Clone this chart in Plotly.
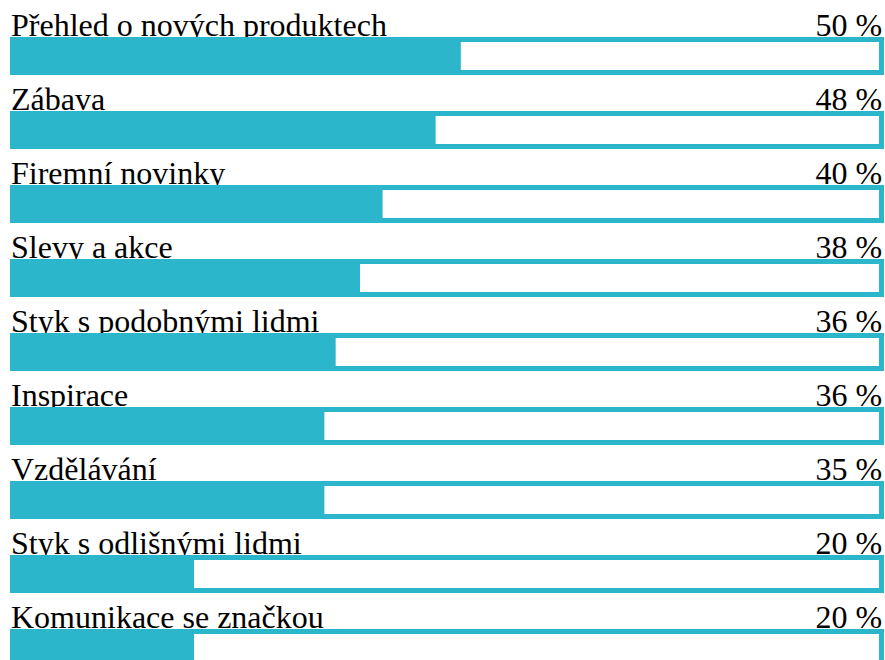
import plotly.graph_objects as go

categories = [
    "Přehled o nových produktech",
    "Zábava",
    "Firemní novinky",
    "Slevy a akce",
    "Styk s podobnými lidmi",
    "Inspirace",
    "Vzdělávání",
    "Styk s odlišnými lidmi",
    "Komunikace se značkou",
]
label_values = [50, 48, 40, 38, 36, 36, 35, 20, 20]
bar_values = [51.3, 48.4, 42.3, 39.7, 36.9, 35.6, 35.6, 20.6, 20.6]
full_scale = [100] * len(categories)

TEAL = "#2cb6cc"
FONT = dict(family="Liberation Serif, Times New Roman, serif", size=32, color="#000000")

fig = go.Figure()

# text layer (base axes, drawn below bars)
fig.add_trace(go.Scatter(
    x=[0] * len(categories), y=categories, mode="text",
    text=categories, textposition="middle right", textfont=FONT,
    xaxis="x", yaxis="y", hoverinfo="skip", showlegend=False, cliponaxis=False,
))
fig.add_trace(go.Scatter(
    x=[100] * len(categories), y=categories, mode="text",
    text=[f"{v} %" for v in label_values], textposition="middle left", textfont=FONT,
    xaxis="x", yaxis="y", hoverinfo="skip", showlegend=False, cliponaxis=False,
))

# bars layer (overlaying axes, drawn above text)
fig.add_trace(go.Bar(
    x=full_scale, y=categories, orientation="h", width=0.446,
    marker=dict(color="#ffffff", line=dict(color=TEAL, width=5)),
    xaxis="x2", yaxis="y2", hoverinfo="skip", showlegend=False,
))
fig.add_trace(go.Bar(
    x=bar_values, y=categories, orientation="h", width=0.446,
    marker=dict(color=TEAL, line=dict(color=TEAL, width=5)),
    xaxis="x2", yaxis="y2", hoverinfo="skip", showlegend=False,
))

hidden = dict(visible=False, showgrid=False, zeroline=False, showticklabels=False, fixedrange=True)

fig.update_layout(
    width=885, height=660,
    margin=dict(l=0, r=0, t=0, b=0),
    paper_bgcolor="#ffffff", plot_bgcolor="rgba(0,0,0,0)",
    barmode="overlay",
    xaxis=dict(range=[-1.263, 100.34], **hidden),
    yaxis=dict(type="category", categoryorder="array", categoryarray=categories,
               range=[8.540, -0.379], **hidden),
    xaxis2=dict(range=[-1.438, 100.40], overlaying="x", anchor="y2", **hidden),
    yaxis2=dict(type="category", categoryorder="array", categoryarray=categories,
                range=[8.162, -0.757], overlaying="y", anchor="x2", **hidden),
)

fig.write_html(
    "out.html",
    config={"displayModeBar": False},
    post_script="document.documentElement.style.overflow='hidden';"
                "document.body.style.margin='0';document.body.style.overflow='hidden';",
)
